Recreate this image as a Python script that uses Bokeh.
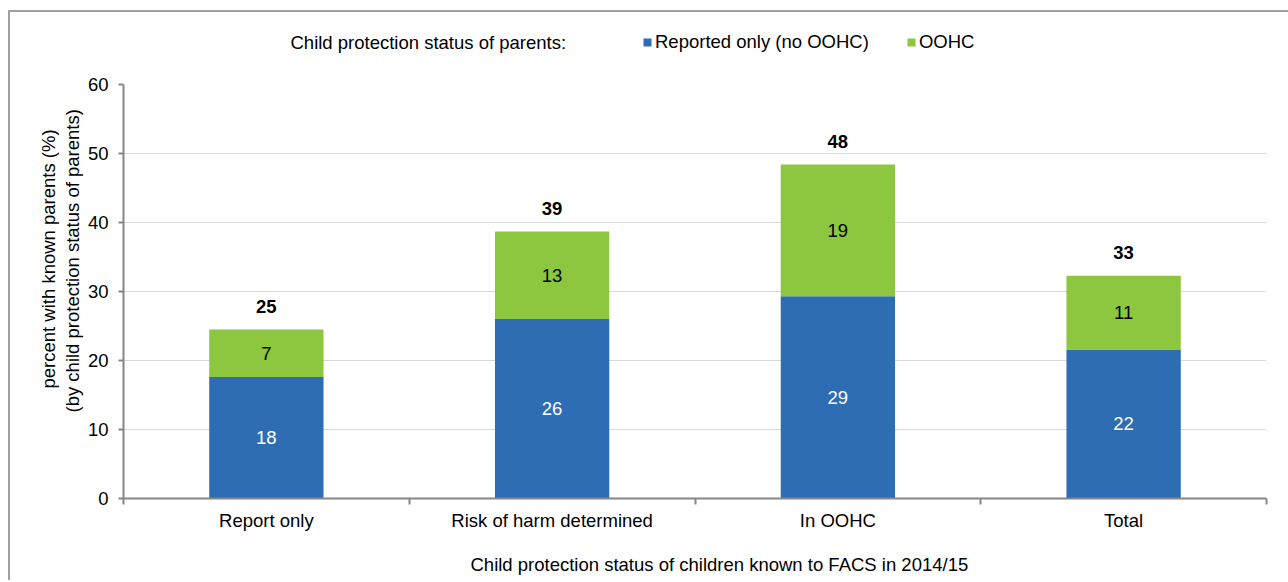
from bokeh.plotting import figure
from bokeh.layouts import column
from bokeh.models import (ColumnDataSource, FixedTicker, Range1d, Legend,
                          LegendItem, LabelSet, Title, Label)
from bokeh.core.properties import value
from bokeh.embed import file_html
from bokeh.resources import INLINE

# ---- data ----
categories = ["Report only", "Risk of harm determined", "In OOHC", "Total"]
reported_only = [17.6, 26.0, 29.3, 21.6]
oohc = [6.9, 12.7, 19.1, 10.7]
reported_labels = ["18", "26", "29", "22"]
oohc_labels = ["7", "13", "19", "11"]
total_labels = ["25", "39", "48", "33"]
y_ticks = [0, 10, 20, 30, 40, 50, 60]
series_names = ["Reported only (no OOHC)", "OOHC"]
legend_title = "Child protection status of parents:"
x_title = "Child protection status of children known to FACS in 2014/15"
y_title_1 = "percent with known parents (%)"
y_title_2 = "(by child protection status of parents)"

FONT = "Liberation Sans"
FS = "18.5px"
BLUE = "#2E6DB4"
GREEN = "#8DC63F"
AXIS = "#868686"
BORDER = "#a0a0a0"
W = 1288
HEAD_H = 74
MAIN_H = 506

n = len(categories)
xs = [i + 0.5 for i in range(n)]
totals = [a + b for a, b in zip(reported_only, oohc)]
src = ColumnDataSource(dict(
    x=xs,
    reported=reported_only,
    oohc=oohc,
    total=totals,
    rep_mid=[a / 2 for a in reported_only],
    oohc_mid=[a + b / 2 for a, b in zip(reported_only, oohc)],
    rep_lab=reported_labels,
    oohc_lab=oohc_labels,
    tot_lab=total_labels,
))

# ---------------- header: legend ----------------
h = figure(width=W, height=HEAD_H, x_range=Range1d(0, W), y_range=Range1d(0, HEAD_H),
           output_backend="svg", toolbar_location=None, title_location=None,
           x_axis_type=None, y_axis_type=None,
           min_border_left=0, min_border_right=0, min_border_top=0, min_border_bottom=0)
h.outline_line_color = None
h.background_fill_color = None
h.border_fill_color = None
h.grid.visible = False
# zero-width bars: only used to give the legend its swatches
lg_blue = h.vbar(x="x", top="reported", width=0, source=src, fill_color=BLUE, line_color=None)
lg_green = h.vbar(x="x", top="oohc", width=0, source=src, fill_color=GREEN, line_color=None)
h.add_layout(Label(x=167, y=32, x_units="screen", y_units="screen", text=legend_title,
                   text_font=FONT, text_font_size=FS, text_color="black",
                   text_align="left", text_baseline="middle"))
legend = Legend(items=[LegendItem(label=series_names[0], renderers=[lg_blue]),
                       LegendItem(label=series_names[1], renderers=[lg_green])],
                orientation="horizontal", location=(519, 21),
                glyph_width=10, glyph_height=10, label_standoff=3, spacing=37,
                padding=0, margin=0, border_line_color=None, background_fill_alpha=0,
                label_text_font=FONT, label_text_font_size=FS, label_text_color="black")
h.add_layout(legend)

# ---------------- main chart ----------------
p = figure(width=W, height=MAIN_H, x_range=Range1d(0, n), y_range=Range1d(0, 60),
           output_backend="svg", toolbar_location=None, title_location=None,
           min_border_left=123, min_border_right=22, min_border_top=10, min_border_bottom=82)
p.outline_line_color = None
p.background_fill_color = "white"
p.border_fill_color = None

rs = p.vbar_stack(["reported", "oohc"], x="x", width=0.4, source=src,
                  color=[BLUE, GREEN], line_color=None)

p.xgrid.grid_line_color = None
p.ygrid.grid_line_color = "#d9d9d9"
p.ygrid.grid_line_width = 1
p.ygrid.ticker = FixedTicker(ticks=y_ticks)

ya = p.yaxis[0]
ya.ticker = FixedTicker(ticks=y_ticks)
ya.axis_line_color = AXIS
ya.axis_line_width = 2
ya.major_tick_line_color = AXIS
ya.major_tick_line_width = 2
ya.major_tick_out = 5
ya.major_tick_in = 0
ya.minor_tick_line_color = None
ya.major_label_standoff = 10
ya.major_label_text_font = FONT
ya.major_label_text_font_size = FS
ya.major_label_text_color = "black"

xa = p.xaxis[0]
xa.ticker = FixedTicker(ticks=xs, minor_ticks=list(range(n + 1)))
xa.major_label_overrides = {x: c for x, c in zip(xs, categories)}
xa.axis_line_color = AXIS
xa.axis_line_width = 2
xa.major_tick_line_color = None
xa.major_tick_out = 0
xa.major_tick_in = 0
xa.minor_tick_line_color = AXIS
xa.minor_tick_line_width = 2
xa.minor_tick_out = 6
xa.minor_tick_in = 0
xa.major_label_standoff = 5
xa.major_label_text_font = FONT
xa.major_label_text_font_size = FS
xa.major_label_text_color = "black"
xa.axis_label = "\u00a0"
xa.axis_label_text_font_size = "13px"
xa.axis_label_standoff = 0

# value labels
common = dict(source=src, x="x", text_align="center", text_baseline="middle",
              text_font=value(FONT), text_font_size=value(FS))
p.add_layout(LabelSet(y="rep_mid", text="rep_lab", text_color="white", **common))
p.add_layout(LabelSet(y="oohc_mid", text="oohc_lab", text_color="black", **common))
p.add_layout(LabelSet(y="total", text="tot_lab", text_color="black", y_offset=23,
                      text_font_style="bold", **common))

# axis titles as side-panel titles
tkw = dict(text_font=FONT, text_font_size=FS, text_color="black",
           text_font_style="normal", align="left")
p.add_layout(Title(text=y_title_2, offset=86, standoff=3, **tkw), "left")
p.add_layout(Title(text=y_title_1, offset=110, standoff=0, **tkw), "left")
p.add_layout(Title(text=x_title, offset=347, standoff=0, **tkw), "below")

layout = column(h, p, spacing=0)
layout.styles = {
    "background-color": "white",
    "background-image": f"linear-gradient({BORDER}, {BORDER}), linear-gradient({BORDER}, {BORDER})",
    "background-size": "2px 100%, 100% 2px",
    "background-position": "8px 10px, 8px 10px",
    "background-repeat": "no-repeat",
}

open("out.html", "w").write(file_html(layout, INLINE))
